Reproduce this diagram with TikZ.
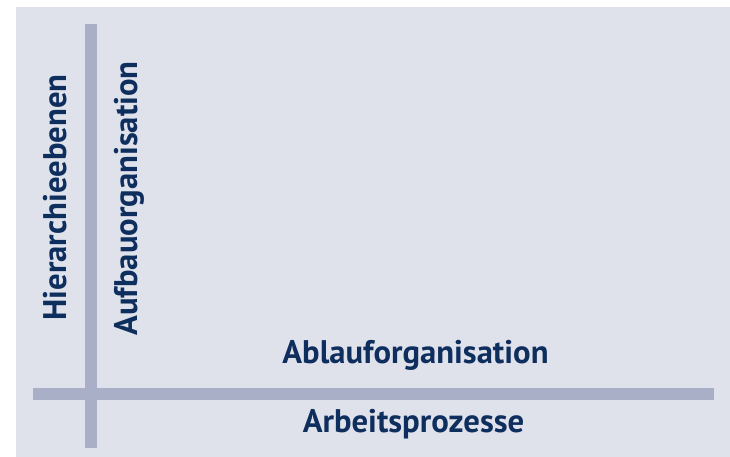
\documentclass[tikz,border=0pt]{standalone}
\usepackage{fontspec}
\setmainfont{PT Sans}
\definecolor{bgc}{HTML}{E0E2EB}
\definecolor{barc}{HTML}{A8AFC7}
\definecolor{txtc}{HTML}{0E2E5E}
\begin{document}
\begin{tikzpicture}[x=1pt,y=-1pt,
  lbl/.style={inner sep=0pt,anchor=base,text=txtc,font=\bfseries\fontsize{32.7}{36}\selectfont}]
\useasboundingbox (0,0) rectangle (730,457);
\fill[bgc] (16,7) rectangle (730,457);
\fill[barc] (85,24) rectangle (97,448);
\fill[barc] (33,388) rectangle (714,400);
\node[lbl,rotate=90] (hier) at (66,197.5) {Hierarchieebenen};
\node[lbl,rotate=90] (aufbau) at (137,198.5) {Aufbauorganisation};
\node[lbl] (ablauf) at (415.5,363) {Ablauforganisation};
\node[lbl] (arbeit) at (413.5,432) {Arbeitsprozesse};
\end{tikzpicture}
\end{document}
